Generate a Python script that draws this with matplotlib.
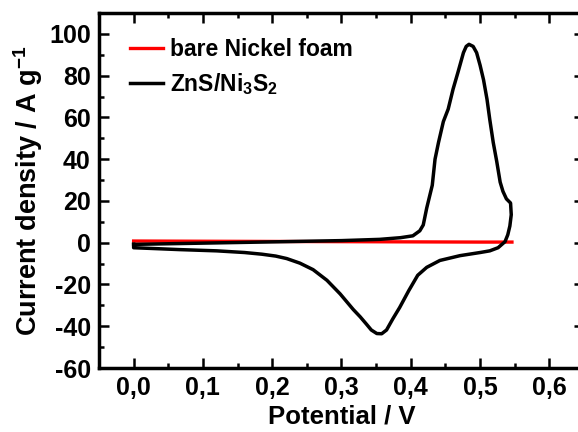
import matplotlib.pyplot as plt
from matplotlib.ticker import MultipleLocator, FuncFormatter

plt.rcParams['font.family'] = ['Liberation Sans', 'DejaVu Sans']
plt.rcParams['font.weight'] = 'bold'
plt.rcParams['axes.unicode_minus'] = False
plt.rcParams['mathtext.fontset'] = 'custom'
plt.rcParams['mathtext.rm'] = 'Liberation Sans:bold'
plt.rcParams['mathtext.it'] = 'Liberation Sans:bold'
plt.rcParams['mathtext.bf'] = 'Liberation Sans:bold'

# bare Ni foam
ni_x = [0.0, 0.1, 0.2, 0.3, 0.4, 0.5, 0.546]
ni_y = [0.8, 0.7, 0.6, 0.5, 0.4, 0.3, 0.3]

# ZnS/Ni3S2 CV loop: anodic sweep then cathodic sweep back to 0 V
zn_x = [0.0, 0.05, 0.1, 0.15, 0.2, 0.25, 0.3, 0.355, 0.385, 0.403, 0.413, 0.418,
        0.423, 0.431, 0.435, 0.440, 0.447, 0.454, 0.461, 0.468, 0.476, 0.480, 0.484,
        0.490, 0.495, 0.500, 0.505, 0.510, 0.514, 0.519, 0.524, 0.529, 0.533, 0.538,
        0.544, 0.545, 0.543, 0.540, 0.536, 0.526, 0.514, 0.500, 0.471, 0.442, 0.423,
        0.410, 0.397, 0.384, 0.374, 0.365, 0.358, 0.351, 0.343, 0.336, 0.327, 0.317,
        0.298, 0.279, 0.259, 0.240, 0.221, 0.205, 0.185, 0.160, 0.120, 0.066, 0.0, 0.0]
zn_y = [-0.8, -0.5, -0.2, 0.1, 0.4, 0.7, 1.0, 1.6, 2.4, 3.3, 5.7, 8.5,
        16.6, 27.5, 40, 48, 58, 64, 73.5, 81.5, 91, 94, 95,
        94, 91, 85, 78, 68.7, 59, 48, 39, 29, 24.6, 21,
        19, 13.4, 8, 3.8, 0.5, -2.4, -3.9, -4.7, -6.2, -8.5, -11.8,
        -15.6, -23, -31, -36.5, -41.8, -43.6, -43.5, -41.8, -39, -35.5, -32,
        -24.5, -18, -12.9, -9.8, -7.6, -6.4, -5.5, -4.7, -3.9, -3.3, -2.4, -0.8]

fig = plt.figure(figsize=(5.78, 4.32), dpi=100)
ax = fig.add_axes([99 / 578, 64 / 432, 485 / 578, 355 / 432])

ax.plot(ni_x, ni_y, color='red', lw=2.4, label='bare Nickel foam')
ax.plot(zn_x, zn_y, color='black', lw=2.5, solid_joinstyle='round',
        label='ZnS/Ni$_3$S$_2$')

ax.set_xlim(-0.05, 0.65)
ax.set_ylim(-60, 110)
ax.xaxis.set_minor_locator(MultipleLocator(0.05))
ax.yaxis.set_minor_locator(MultipleLocator(10))
ax.set_xticks([0.0, 0.1, 0.2, 0.3, 0.4, 0.5, 0.6])
ax.set_yticks([-60, -40, -20, 0, 20, 40, 60, 80, 100])
ax.xaxis.set_major_formatter(FuncFormatter(lambda v, p: ('%.1f' % v).replace('.', ',')))

ax.tick_params(which='both', direction='in', top=True, right=True, width=1.8,
               labelsize=18)
ax.tick_params(axis='x', pad=6)
ax.tick_params(axis='y', pad=6)
ax.tick_params(which='major', length=7)
ax.tick_params(which='minor', length=3.5)
for s in ax.spines.values():
    s.set_linewidth(2.5)

ax.set_xlabel('Potential / V', fontsize=18.5, fontweight='bold', labelpad=3)
ax.set_ylabel('Current density / A g$^{-1}$', fontsize=19.5, fontweight='bold',
              labelpad=3)

ax.legend(loc='upper left', frameon=False, fontsize=16.5, handlelength=1.45,
          handletextpad=0.3, labelspacing=0.45, borderaxespad=0.3,
          bbox_to_anchor=(0.03, 0.975))

fig.savefig('out.png', dpi=100)
